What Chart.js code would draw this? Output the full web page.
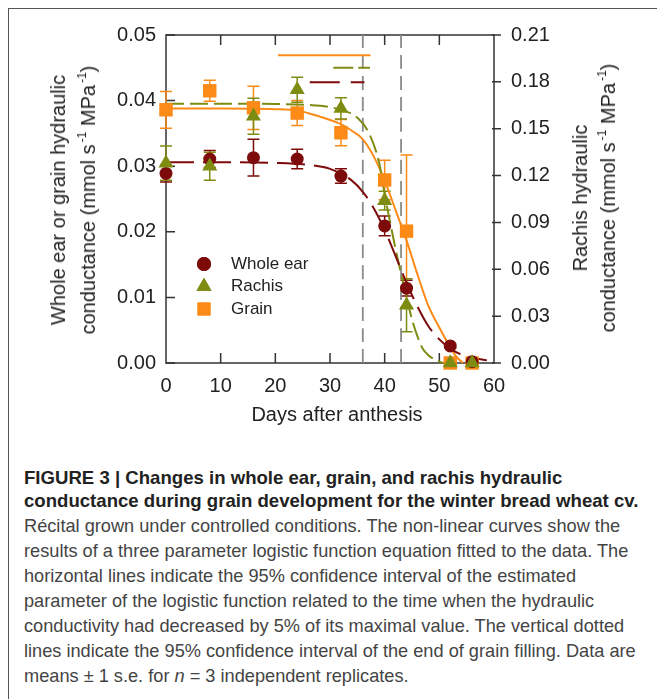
<!DOCTYPE html>
<html><head><meta charset="utf-8">
<script src="https://cdn.jsdelivr.net/npm/chart.js@4.4.1/dist/chart.umd.min.js"></script>
<style>
html,body{margin:0;padding:0;background:#fff;}
body{width:657px;height:699px;overflow:hidden;position:relative;font-family:"Liberation Sans",Arial,sans-serif;}
#frame{position:absolute;left:8px;top:8px;width:720px;height:760px;border:1px solid #555;}
#wrap{position:absolute;left:0;top:0;width:657px;height:440px;}
#c{width:657px;height:440px;}
.title{position:absolute;white-space:nowrap;font-size:20px;color:#222;text-align:center;transform:translate(-50%,-50%) rotate(-90deg);}
.title sup{font-size:12px;position:relative;top:-0.75em;vertical-align:baseline;line-height:0;margin-left:2px;}
#yl{left:73px;top:200px;line-height:30px;}
#yr{left:594px;top:198px;line-height:28px;}
#xt{position:absolute;white-space:nowrap;font-size:20px;color:#222;left:337px;top:414px;transform:translate(-50%,-50%);line-height:24px;}
#cap{position:absolute;left:24px;top:466px;white-space:nowrap;}
#capb{font-weight:bold;color:#222;line-height:23px;font-size:18.6px;}
#capt{color:#444;line-height:25px;margin-top:2px;font-size:18.2px;}
</style>
</head><body>
<div id="frame"></div>
<div id="wrap"><canvas id="c" width="657" height="440"></canvas></div>
<div class="title" id="yl">Whole ear or grain hydraulic<br>conductance (mmol s<sup>-1</sup> MPa<sup>-1</sup>)</div>
<div class="title" id="yr">Rachis hydraulic<br>conductance (mmol s<sup>-1</sup> MPa<sup>-1</sup>)</div>
<div id="xt">Days after anthesis</div>
<div id="cap">
<div id="capb">FIGURE 3 | Changes in whole ear, grain, and rachis hydraulic<br>conductance during grain development for the winter bread wheat cv.</div>
<div id="capt">Récital grown under controlled conditions. The non-linear curves show the<br>results of a three parameter logistic function equation fitted to the data. The<br>horizontal lines indicate the 95% confidence interval of the estimated<br>parameter of the logistic function related to the time when the hydraulic<br>conductivity had decreased by 5% of its maximal value. The vertical dotted<br>lines indicate the 95% confidence interval of the end of grain filling. Data are<br>means ± 1 s.e. for <i>n</i> = 3 independent replicates.</div>
</div>
<script>
// ---------------- DATA ----------------
const days = [0, 8, 16, 24, 32, 40, 44, 52, 56];
const earMean = [0.0289, 0.0311, 0.0313, 0.0311, 0.0285, 0.0209, 0.0114, 0.0026, 0.0002];
const earSE   = [0.0013, 0.0013, 0.0028, 0.0015, 0.0011, 0.0015, 0.0012, 0.0003, 0.0001];
const rachisMean = [0.128, 0.126, 0.158, 0.175, 0.163, 0.104, 0.037, 0.000, 0.000];
const rachisSE   = [0.011, 0.009, 0.0115, 0.008, 0.0068, 0.006, 0.017, 0, 0];
const grainMean = [0.0386, 0.0415, 0.0389, 0.0381, 0.0351, 0.0279, 0.0201, 0.0000, 0.0000];
const grainSE   = [0.0028, 0.0016, 0.0033, 0.0019, 0.0020, 0.0030, 0.0116, 0, 0];

// fitted logistic curves
const earCurveX = [0, 10, 20, 26, 30, 34, 36, 38, 40, 42, 44, 46, 48, 50, 52, 54, 56, 58.7];
const earCurveY = [0.0306, 0.0306, 0.0305, 0.0302, 0.0296, 0.0278, 0.0261, 0.0236, 0.0203, 0.0163, 0.0122, 0.0086, 0.0056, 0.0036, 0.0022, 0.0013, 0.0008, 0.0004];
const rachisCurveX = [0, 10, 20, 26, 30, 33, 35, 37, 39, 40, 41, 42, 43, 44, 45, 46, 47, 48, 49, 50, 50.8];
const rachisCurveY = [0.166, 0.166, 0.1658, 0.1652, 0.1638, 0.161, 0.157, 0.148, 0.128, 0.108, 0.090, 0.073, 0.057, 0.042, 0.028, 0.017, 0.009, 0.005, 0.0025, 0.0008, 0];
const grainCurveX = [0, 10, 20, 24, 28, 32, 34, 36, 38, 40, 42, 44, 46, 48, 50, 52, 53, 54.3];
const grainCurveY = [0.0388, 0.0388, 0.0387, 0.0385, 0.0376, 0.0364, 0.0354, 0.0341, 0.0315, 0.0278, 0.0233, 0.0187, 0.0135, 0.0087, 0.0054, 0.0024, 0.0011, 0.0000];

// 95% confidence intervals (horizontal lines, left-axis units) and end of grain filling (vertical lines)
const grainCI = [20.5, 37.4];  const grainCIy = 0.0469;
const rachisCI = [30.6, 37.3]; const rachisCIy = 0.0450;
const earCI = [26.3, 36.3];    const earCIy = 0.0428;
const fillEndCI = [36, 43];

const xTicks = [0, 10, 20, 30, 40, 50, 60];
const leftTicks = [0, 0.01, 0.02, 0.03, 0.04, 0.05];
const rightTicks = [0, 0.03, 0.06, 0.09, 0.12, 0.15, 0.18, 0.21];
const seriesLabels = ['Whole ear', 'Rachis', 'Grain'];

// ---------------- STYLE ----------------
const FONT = '"Liberation Sans", Arial, sans-serif';
const EAR = '#7d0b0b', RAC = '#7f8c12', GRA = '#fb8a17', AX = '#333', TXT = '#222';

const pts = (xs, ys) => xs.map((x, i) => ({x: x, y: ys[i]}));

const axesFrame = {
  id: 'axesFrame',
  beforeDatasetsDraw(chart) {
    const {ctx, chartArea: {left, right, top, bottom}} = chart;
    const {x, y, y2} = chart.scales;
    ctx.save();
    ctx.strokeStyle = AX; ctx.lineWidth = 1.5;
    ctx.strokeRect(left, top, right - left, bottom - top);
    ctx.beginPath();
    xTicks.forEach(v => {
      if (v <= x.min || v >= x.max) return;
      const px = x.getPixelForValue(v);
      ctx.moveTo(px, bottom); ctx.lineTo(px, bottom - 10);
      ctx.moveTo(px, top); ctx.lineTo(px, top + 10);
    });
    leftTicks.forEach(v => {
      const py = y.getPixelForValue(v);
      ctx.moveTo(left, py); ctx.lineTo(left + 9, py);
    });
    rightTicks.forEach(v => {
      const py = y2.getPixelForValue(v);
      ctx.moveTo(right - 2, py); ctx.lineTo(right + 7, py);
    });
    ctx.stroke();
    // error bars
    const err = (ms, es, ys, color) => {
      ctx.strokeStyle = color; ctx.lineWidth = 1.5;
      days.forEach((d, i) => {
        if (!es[i]) return;
        const px = x.getPixelForValue(d);
        const p1 = ys.getPixelForValue(ms[i] + es[i]);
        const p2 = ys.getPixelForValue(ms[i] - es[i]);
        ctx.beginPath();
        ctx.moveTo(px, p1); ctx.lineTo(px, p2);
        ctx.moveTo(px - 6, p1); ctx.lineTo(px + 6, p1);
        ctx.moveTo(px - 6, p2); ctx.lineTo(px + 6, p2);
        ctx.stroke();
      });
    };
    err(grainMean, grainSE, y, GRA);
    err(earMean, earSE, y, EAR);
    err(rachisMean, rachisSE, y2, RAC);
    ctx.restore();
  },
  afterDatasetsDraw(chart) {
    const {ctx, chartArea: {left, top}} = chart;
    const styles = [['circle', 7, EAR], ['triangle', 8.7, RAC], ['rect', 9.2, GRA]];
    ctx.save();
    seriesLabels.forEach((lab, i) => {
      const cx = left + 38, cy = top + 229 + i * 22.5;
      ctx.fillStyle = styles[i][2]; ctx.strokeStyle = styles[i][2];
      Chart.helpers.drawPoint(ctx, {pointStyle: styles[i][0], radius: styles[i][1], rotation: 0, borderWidth: 0}, cx, cy);
      ctx.fill();
      ctx.fillStyle = TXT; ctx.font = '17px ' + FONT; ctx.textBaseline = 'middle'; ctx.textAlign = 'left';
      ctx.fillText(lab, left + 65, cy);
    });
    ctx.restore();
  }
};

const lineDs = (data, color, dash, width, order, axis) => ({
  type: 'line', data: data, borderColor: color, borderWidth: width, borderDash: dash,
  pointRadius: 0, fill: false, cubicInterpolationMode: 'monotone', order: order,
  yAxisID: axis || 'y', clip: false
});
const markDs = (label, data, color, style, r, order, axis) => ({
  type: 'line', label: label, data: data, showLine: false, pointStyle: style, pointRadius: r,
  pointBackgroundColor: color, pointBorderColor: color, pointBorderWidth: 0, order: order,
  yAxisID: axis || 'y', clip: false
});

new Chart(document.getElementById('c'), {
  type: 'line',
  data: {datasets: [
    markDs(seriesLabels[1], pts(days, rachisMean), RAC, 'triangle', 8.7, 1, 'y2'),
    markDs(seriesLabels[0], pts(days, earMean), EAR, 'circle', 6.5, 2),
    markDs(seriesLabels[2], pts(days, grainMean), GRA, 'rect', 9.5, 3),
    lineDs(pts(earCurveX, earCurveY), EAR, [28, 9], 2, 4),
    lineDs(pts(rachisCurveX, rachisCurveY), RAC, [18, 6], 2, 5, 'y2'),
    lineDs(pts(grainCurveX, grainCurveY), GRA, [], 2, 6),
    lineDs(pts(grainCI, [grainCIy, grainCIy]), GRA, [], 2, 7),
    lineDs(pts(rachisCI, [rachisCIy, rachisCIy]), RAC, [20, 5], 2, 7),
    lineDs(pts(earCI, [earCIy, earCIy]), EAR, [30, 11], 2, 7),
    lineDs(pts([fillEndCI[0], fillEndCI[0]], [0, 0.05]), '#8a8a8a', [14, 7], 1.8, 8),
    lineDs(pts([fillEndCI[1], fillEndCI[1]], [0, 0.05]), '#8a8a8a', [14, 7], 1.8, 8)
  ]},
  options: {
    responsive: false, animation: false, devicePixelRatio: 1,
    layout: {padding: {top: 35, left: 0, right: 0, bottom: 0}},
    plugins: {legend: {display: false}, tooltip: {enabled: false}},
    scales: {
      x: {type: 'linear', position: 'bottom', min: 0, max: 60,
        afterBuildTicks: s => { s.ticks = xTicks.map(v => ({value: v})); },
        ticks: {font: {size: 20, family: FONT}, color: TXT, padding: 11, maxRotation: 0, autoSkip: false},
        grid: {display: false, drawTicks: false}, border: {display: false},
        afterFit: s => { s.height = 77; }},
      y: {type: 'linear', position: 'left', min: 0, max: 0.05,
        afterBuildTicks: s => { s.ticks = leftTicks.map(v => ({value: v})); },
        ticks: {font: {size: 20, family: FONT}, color: TXT, padding: 10, callback: v => v.toFixed(2), autoSkip: false},
        grid: {display: false, drawTicks: false}, border: {display: false},
        afterFit: s => { s.width = 166; }},
      y2: {type: 'linear', position: 'right', min: 0, max: 0.21,
        afterBuildTicks: s => { s.ticks = rightTicks.map(v => ({value: v})); },
        ticks: {font: {size: 20, family: FONT}, color: TXT, padding: 17, callback: v => v.toFixed(2), autoSkip: false},
        grid: {display: false, drawTicks: false}, border: {display: false},
        afterFit: s => { s.width = 163; }}
    }
  },
  plugins: [axesFrame]
});
</script>
</body></html>
